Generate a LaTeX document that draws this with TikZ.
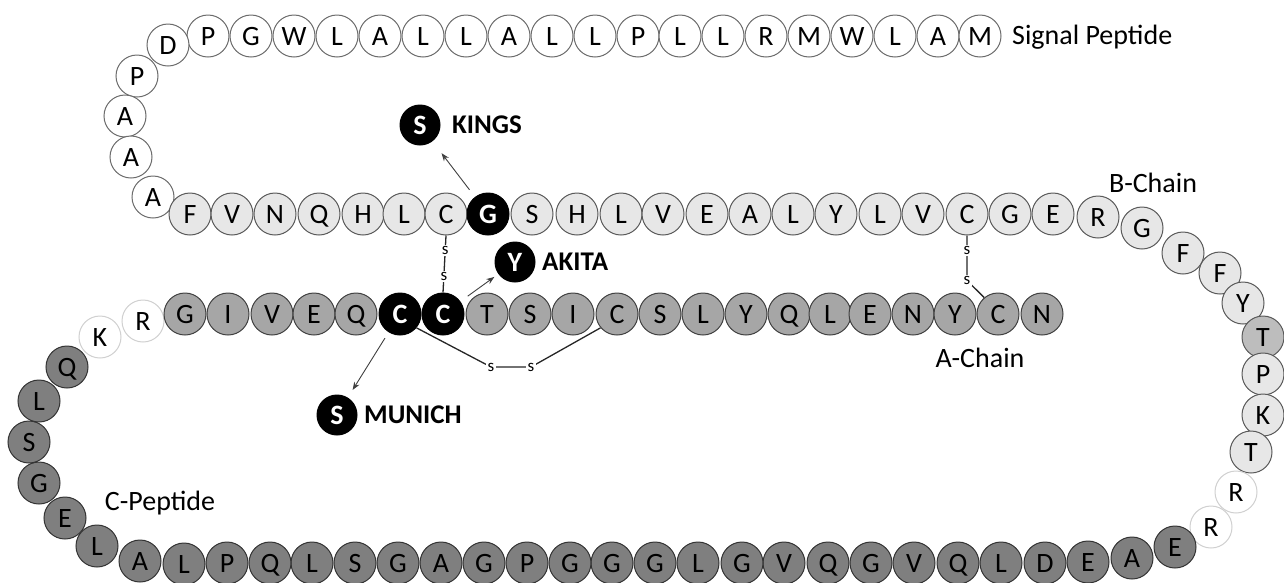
\documentclass[tikz,border=0pt]{standalone}
\usepackage{fontspec}
\setmainfont{Carlito}
\usetikzlibrary{arrows.meta}
\definecolor{sigline}{HTML}{6B6B6B}
\definecolor{bfill}{HTML}{E7E7E7}
\definecolor{bline}{HTML}{595959}
\definecolor{afill}{HTML}{A6A6A6}
\definecolor{aline}{HTML}{404040}
\definecolor{cfill}{HTML}{7F7F7F}
\definecolor{cline}{HTML}{333333}
\definecolor{tfill}{HTML}{BDBDBD}
\definecolor{faintline}{HTML}{D0D0D0}
\definecolor{arrcol}{HTML}{404040}
\begin{document}
\begin{tikzpicture}[x=1pt,y=-1pt,
  res/.style={circle,minimum size=42pt,inner sep=0pt,line width=1pt,
    font=\fontsize{28}{28}\selectfont,text height=18pt,text depth=0pt},
  sig/.style={res,draw=sigline,fill=white},
  bch/.style={res,draw=bline,fill=bfill},
  ach/.style={res,draw=aline,fill=afill},
  cpep/.style={res,draw=cline,fill=cfill},
  tgray/.style={res,draw=bline,fill=tfill},
  faint/.style={res,draw=faintline,fill=white},
  mutc/.style={res,draw=black,fill=black,text=white,font=\fontsize{28}{28}\selectfont\bfseries},
  mutsym/.style={mutc,minimum size=40pt},
  lbl/.style={font=\fontsize{28}{28}\selectfont,inner sep=0pt},
  mutlbl/.style={font=\fontsize{27}{27}\selectfont\bfseries,inner sep=0pt,anchor=west},
  ss/.style={line width=1.3pt,draw=black!85},
  sl/.style={fill=white,inner sep=1.8pt,font=\fontsize{17}{17}\selectfont,text height=8pt,text depth=0pt},
  arr/.style={line width=0.9pt,draw=arrcol,-{Stealth[length=8pt,width=6pt]}}
]
\useasboundingbox (0,0) rectangle (1284,582);
\begin{scope}
\clip (0,0) rectangle (1284,582);
% signal peptide
\foreach \l/\x [count=\i] in {P/208,G/251,W/294,L/337,A/380,L/423,L/466,A/509,L/552,L/595,P/638,L/680,L/723,R/766,M/809,W/852,L/895,A/938,M/980}
  \node[sig] (sp\i) at (\x,36) {\l};
\node[sig] (spD) at (168,45) {D};
\foreach \l/\x/\y [count=\i] in {P/137/76,A/125/116,A/131/157,A/153/197}
  \node[sig] (sl\i) at (\x,\y) {\l};
% B chain
\foreach \l/\x [count=\i] in {F/190,V/232,N/275,Q/319,H/363,L/404,C/446}
  \node[bch] (b\i) at (\x,214) {\l};
\node[mutc] (b8) at (488,214) {G};
\foreach \l/\x [count=\i from 9] in {S/532,H/577,L/621,V/663,E/707,A/750,L/793,Y/836,L/880,V/923,C/967,G/1010,E/1053}
  \node[bch] (b\i) at (\x,214) {\l};
% right turn
\foreach \l/\x/\y [count=\i] in {R/1098/217,G/1142/228,F/1183/253,F/1220/273,Y/1243/303}
  \node[bch] (t\i) at (\x,\y) {\l};
\node[tgray] (t6) at (1263,337) {T};
\foreach \l/\x/\y [count=\i from 7] in {P/1263/374,K/1263/415,T/1251/452}
  \node[bch] (t\i) at (\x,\y) {\l};
\foreach \l/\x/\y [count=\i from 10] in {R/1236/492,R/1211/527}
  \node[faint] (t\i) at (\x,\y) {\l};
% C peptide
\foreach \l/\x/\y [count=\i] in {E/1175/547,A/1132/558,E/1088/562,D/1045/563,L/1001/563,Q/958/563,V/914/563,G/871/563,Q/828/563,V/784/563,G/742/563,L/698/563,G/655/563,G/612/563,G/570/563,P/527/563,G/484/563,A/441/563,G/398/563,S/355/563,L/312/563,Q/270/563,P/227/563,L/184/564,A/140/561,L/97/546,E/65/518,G/39/483,S/29/442,L/39/401,Q/67/367}
  \node[cpep] (c\i) at (\x,\y) {\l};
\node[faint] (k1) at (100,337) {K};
\node[faint] (k2) at (143,321) {R};
% A chain
\foreach \l/\x [count=\i] in {G/185,I/228,V/272,E/314,Q/356}
  \node[ach] (a\i) at (\x,314) {\l};
\node[mutc] (a6) at (400,314) {C};
\node[mutc] (a7) at (443,314) {C};
\foreach \l/\x [count=\i from 8] in {T/487,S/530,I/573,C/617,S/660,L/703,Y/746,Q/789,L/830,E/870,N/913,Y/955,C/998,N/1042}
  \node[ach] (a\i) at (\x,314) {\l};
\end{scope}
% disulfide bonds
\draw[ss] (b7.south) -- node[sl,pos=.26]{s} node[sl,pos=.72]{s} (a7.north);
\draw[ss] (b19.south) -- node[sl,pos=.33]{s} ++(0,45) coordinate (d2) -- (a20.130);
\node[sl] (d2s) at (d2) {s};
\coordinate (d3) at (491,367);
\coordinate (d4) at (531,367);
\draw[ss] (a6.-40) -- (d3) -- (d4) -- (a11.220);
\node[sl] (d3s) at (d3) {s};
\node[sl] (d4s) at (d4) {s};
% mutations
\node[mutsym] (kings) at (420,125) {S};
\node[mutlbl] (kingsl) at (452,125) {KINGS};
\node[mutsym] (akita) at (515,262) {Y};
\node[mutlbl] (akital) at (542,262) {AKITA};
\node[mutsym] (munich) at (337,415) {S};
\node[mutlbl] (munichl) at (364,415) {MUNICH};
\draw[arr,shorten <=9pt,shorten >=15pt] (b8) -- (kings);
\draw[arr,shorten <=9pt,shorten >=5pt] (a7) -- (akita);
\draw[arr,shorten <=7pt,shorten >=9pt] (a6) -- (munich);
% labels
\node[lbl,anchor=west] (sigl) at (1012,37) {Signal Peptide};
\node[lbl] (bl) at (1153,183) {B-Chain};
\node[lbl] (al) at (980,358) {A-Chain};
\node[lbl] (cl) at (160,503) {C-Peptide};
\end{tikzpicture}
\end{document}
